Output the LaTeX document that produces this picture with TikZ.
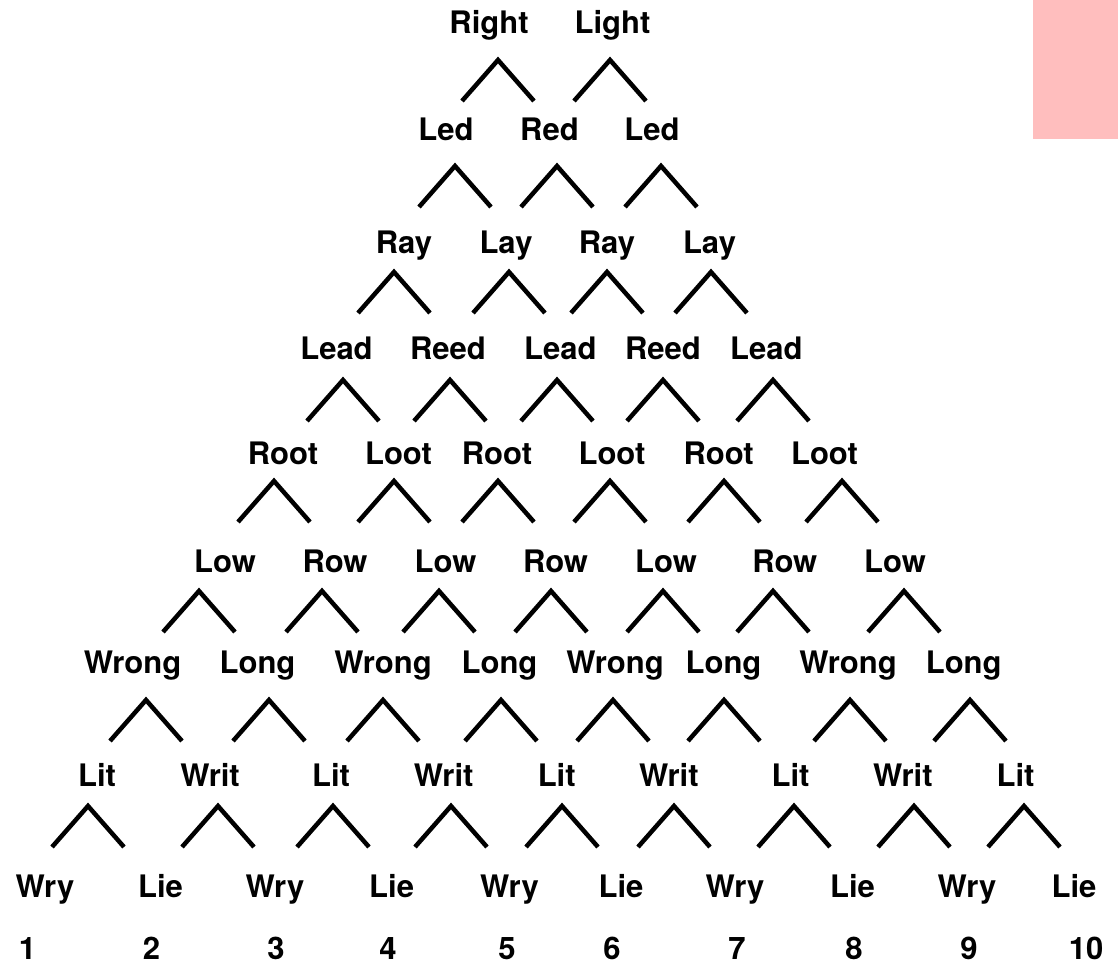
\documentclass[tikz,border=0pt]{standalone}
\usepackage{fontspec}
\setmainfont{TeX Gyre Heros}
\usetikzlibrary{calc}
\definecolor{pinkbox}{RGB}{255,190,190}
\begin{document}
\begin{tikzpicture}[x=1pt,y=-1pt,
  word/.style={anchor=base, inner sep=0pt, font=\fontsize{31}{37}\selectfont\bfseries},
  caret/.style={line width=4.5pt, line join=miter, line cap=butt}]
\useasboundingbox (0,0) rectangle (1118,964);
\fill[pinkbox] (1033,0) rectangle (1118,139);
% words
\foreach \x/\t [count=\i] in {489/Right,612.5/Light}
  \node[word] (a\i) at (\x,33) {\t};
\foreach \x/\t [count=\i] in {446/Led,549.5/Red,652/Led}
  \node[word] (b\i) at (\x,140) {\t};
\foreach \x/\t [count=\i] in {404/Ray,506/Lay,607/Ray,709.5/Lay}
  \node[word] (c\i) at (\x,253) {\t};
\foreach \x/\t [count=\i] in {336.5/Lead,448/Reed,560.3/Lead,663/Reed,766.3/Lead}
  \node[word] (d\i) at (\x,359) {\t};
\foreach \x/\t [count=\i] in {283/Root,398.5/Loot,497/Root,612/Loot,718.7/Root,824.5/Loot}
  \node[word] (e\i) at (\x,464) {\t};
\foreach \x/\t [count=\i] in {225/Low,335/Row,445.5/Low,555.5/Row,666/Low,784.8/Row,895/Low}
  \node[word] (f\i) at (\x,572) {\t};
\foreach \x/\t [count=\i] in {132.5/Wrong,257.5/Long,383/Wrong,499.5/Long,615/Wrong,723.5/Long,848/Wrong,963.7/Long}
  \node[word] (g\i) at (\x,673) {\t};
\foreach \x/\t [count=\i] in {97/Lit,210/Writ,331/Lit,443.7/Writ,556.7/Lit,668.8/Writ,790.5/Lit,902.8/Writ,1015.5/Lit}
  \node[word] (h\i) at (\x,786) {\t};
\foreach \x/\t [count=\i] in {45/Wry,160.5/Lie,275/Wry,391.6/Lie,509.5/Wry,621/Lie,735/Wry,852.5/Lie,967/Wry,1074/Lie}
  \node[word] (k\i) at (\x,897) {\t};
\foreach \x/\t [count=\i] in {27.5/1,151.5/2,276/3,388/4,507/5,612/6,737/7,854/8,969/9,1086/10}
  \node[word] (n\i) at (\x,959) {\t};
% carets
\foreach \y/\xs/\nm in {60/{498,610}/A, 166/{455,557,661}/B, 272/{394,509,607,711}/C,
  380/{343,450,557,663,773}/D, 481/{274,394,498,610,724,842}/E,
  591/{199,322,439,551,663,773,904}/F, 700/{146,269,383,501,613,724,850,970}/G,
  806/{88,218,333,451,562,674,794,914,1024}/H}
  \foreach \x [count=\i] in \xs {
    \coordinate (\nm\i) at (\x,\y);
    \draw[caret] ($(\nm\i)+(-36,41)$) -- (\nm\i) -- ($(\nm\i)+(36,41)$);
  };
\end{tikzpicture}
\end{document}
